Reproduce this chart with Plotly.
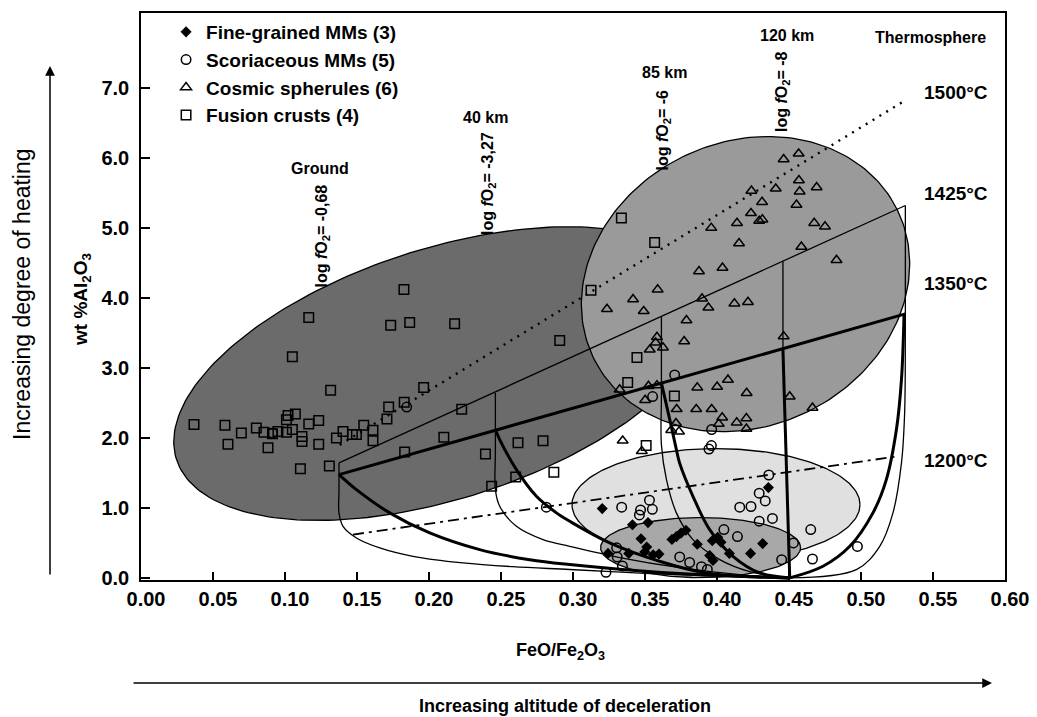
import numpy as np
import plotly.graph_objects as go

# ---------------- data ----------------
fusion_x = [0.1165,0.1051,0.1826,0.1734,0.1866,0.2178,0.1317,0.1963,0.0368,0.0583,0.0604,0.0697,0.0801,0.0854,0.0882,0.0913,0.0951,0.1010,0.1021,0.1072,0.1010,0.1051,0.1118,0.1118,0.1165,0.1234,0.1234,0.1107,0.1308,0.1357,0.1403,0.1468,0.1496,0.1547,0.1611,0.1611,0.1708,0.1720,0.1828,0.2227,0.2103,0.1831,0.2392,0.2435,0.2618,0.2792,0.2602,0.2867,0.3336,0.3567,0.3125,0.2908,0.3444,0.3380,0.3704,0.3508]
fusion_y = [3.72,3.16,4.12,3.61,3.65,3.63,2.68,2.72,2.19,2.18,1.91,2.07,2.14,2.08,1.86,2.06,2.09,2.26,2.32,2.34,2.08,2.12,2.02,1.95,2.20,2.25,1.91,1.56,1.60,2.00,2.09,2.05,2.05,2.18,2.11,1.96,2.27,2.44,2.51,2.41,2.01,1.80,1.77,1.31,1.93,1.96,1.44,1.51,5.14,4.79,4.11,3.39,3.15,2.79,2.60,1.89]

cosmic_x = [0.4463,0.4567,0.4239,0.4408,0.4569,0.4574,0.4692,0.4313,0.4552,0.4236,0.4139,0.4293,0.4315,0.4675,0.4750,0.3960,0.4153,0.4586,0.4830,0.3875,0.4038,0.3588,0.3417,0.3236,0.3491,0.3896,0.3940,0.4121,0.4215,0.3788,0.3772,0.3583,0.3574,0.3533,0.3625,0.4463,0.3324,0.3524,0.3583,0.3501,0.3863,0.4001,0.4076,0.4206,0.4505,0.3720,0.3856,0.3963,0.4663,0.3715,0.4036,0.4012,0.4137,0.4204,0.4204,0.3682,0.3736,0.3345,0.3478]
cosmic_y = [5.98,6.06,5.53,5.56,5.68,5.52,5.58,5.37,5.33,5.21,5.07,5.10,5.12,5.07,5.02,5.00,4.78,4.73,4.54,4.38,4.43,4.12,3.98,3.84,3.81,3.99,3.86,3.92,3.94,3.68,3.38,3.44,3.36,3.26,3.29,3.45,2.69,2.74,2.75,2.54,2.72,2.73,2.83,2.64,2.59,2.41,2.41,2.41,2.43,2.21,2.29,2.20,2.22,2.28,2.13,2.11,2.09,1.96,1.81]

scoria_x = [0.3963,0.3961,0.3944,0.4360,0.4293,0.4335,0.4158,0.4236,0.4293,0.4385,0.3338,0.3531,0.3551,0.3469,0.3461,0.4048,0.4142,0.4651,0.4531,0.4975,0.4663,0.4449,0.3741,0.3810,0.3892,0.3933,0.3303,0.3307,0.3343,0.3229,0.3706,0.3553,0.1845,0.0913,0.2815]
scoria_y = [2.12,1.89,1.84,1.47,1.21,1.10,1.01,1.02,0.81,0.85,1.01,1.11,0.98,0.97,0.90,0.69,0.59,0.69,0.50,0.45,0.27,0.26,0.30,0.22,0.16,0.12,0.43,0.30,0.17,0.08,2.90,2.59,2.44,2.07,1.01]

fine_x = [0.3203,0.4357,0.3413,0.3521,0.3472,0.3512,0.3498,0.3557,0.3597,0.3687,0.3718,0.3750,0.3784,0.3863,0.3967,0.4005,0.4028,0.3949,0.3972,0.4086,0.4317,0.4233,0.3243,0.3387]
fine_y = [0.99,1.29,0.76,0.79,0.56,0.44,0.37,0.33,0.34,0.55,0.59,0.64,0.68,0.48,0.53,0.58,0.51,0.32,0.25,0.35,0.49,0.35,0.35,0.35]

# isotherm lines
iso1500_x = [0.138, 0.529]; iso1500_y = [1.90, 6.80]
iso1425_x = [0.1375, 0.5308]; iso1425_y = [1.643, 5.32]
iso1350_x = [0.1375, 0.5308]; iso1350_y = [1.476, 3.771]
iso1200_x = [0.1472, 0.5256]; iso1200_y = [0.619, 1.737]

# evolution paths (thin = from 1425 line, thick = from 1350 line)
ground_thin_x = [0.1375,0.1375,0.1375,0.1403,0.1496,0.1658,0.1889,0.2236,0.2583,0.2977,0.35,0.40,0.4505]
ground_thin_y = [1.643,1.25,0.929,0.737,0.571,0.429,0.309,0.214,0.160,0.120,0.065,0.025,0.0]
ground_thick_x = [0.1375,0.1496,0.1727,0.2005,0.2352,0.2699,0.2977,0.35,0.40,0.4505]
ground_thick_y = [1.476,1.261,0.929,0.643,0.404,0.260,0.190,0.095,0.035,0.0]
km40_thin_x = [0.2461,0.2461,0.2461,0.2491,0.2607,0.2792,0.2977,0.3324,0.3741,0.4158,0.4505]
km40_thin_y = [2.643,1.8,1.261,1.023,0.737,0.547,0.451,0.291,0.147,0.047,0.0]
km40_thick_x = [0.2461,0.2491,0.2607,0.2746,0.2885,0.2977,0.3255,0.3602,0.3926,0.4505]
km40_thick_y = [2.119,1.976,1.547,1.166,0.929,0.809,0.500,0.237,0.071,0.0]
km85_thin_x = [0.3614,0.3614,0.3614,0.3649,0.3718,0.3833,0.4019,0.4227,0.4505]
km85_thin_y = [3.729,2.6,1.9,1.404,0.929,0.547,0.261,0.090,0.0]
km85_thick_x = [0.3614,0.3672,0.3718,0.3740,0.3833,0.3949,0.4111,0.4297,0.4505]
km85_thick_y = [2.786,2.262,1.833,1.643,1.166,0.690,0.309,0.071,0.0]
km120_thin_x = [0.4458,0.4458]; km120_thin_y = [4.53,3.26]
km120_thick_x = [0.4458,0.4505]; km120_thick_y = [3.26,0.0]
thermo_thin_x = [0.5308,0.5308,0.5303,0.5281,0.5222,0.5130,0.4968,0.4505]
thermo_thin_y = [5.32,3.643,2.357,1.643,0.929,0.451,0.119,0.0]
thermo_thick_x = [0.5299,0.5281,0.5246,0.5176,0.5083,0.4922,0.4736,0.4505]
thermo_thick_y = [3.771,2.833,2.119,1.404,0.929,0.451,0.166,0.0]

x_ticks = [0.00,0.05,0.10,0.15,0.20,0.25,0.30,0.35,0.40,0.45,0.50,0.55,0.60]
y_ticks = [0,1,2,3,4,5,6,7]

# ---------------- layout geometry ----------------
# the page body has an 8px margin, so the figure is shifted by OFF
OFF = 8
SCR_W, SCR_H = 1037, 717
P_L, P_R, P_T, P_B = 141, 1005, 13, 580      # plot area on screen
W, H = SCR_W - OFF, SCR_H - OFF
ML, MT = P_L - OFF, P_T - OFF
MR, MB = SCR_W - P_R, SCR_H - P_B
XR = [0, 0.6]
YR = [-0.03, 8.07]
PX_X = (P_R - P_L) / (XR[1] - XR[0])
PX_Y = (P_B - P_T) / (YR[1] - YR[0])

FONT = "Liberation Sans, Arial, sans-serif"

def ellipse(cx, cy, a_px, b_px, ang_deg, n=240):
    t = np.linspace(0, 2 * np.pi, n)
    th = np.radians(ang_deg)
    u, v = a_px * np.cos(t), b_px * np.sin(t)
    dx = u * np.cos(th) - v * np.sin(th)
    dy = u * np.sin(th) + v * np.cos(th)
    return cx + dx / PX_X, cy + dy / PX_Y

fig = go.Figure()

regions = [
    dict(c=(0.2097, 2.919), a=280, b=125, ang=17.9, fill="#6b6b6b"),
    dict(c=(0.4198, 4.197), a=169, b=142, ang=26, fill="#9a9a9a"),
    dict(c=(0.3993, 1.047), a=144, b=56, ang=0, fill="#e0e0e0"),
    dict(c=(0.3886, 0.433), a=100, b=30, ang=0, fill="#a8a8a8"),
]
for r in regions:
    ex, ey = ellipse(r["c"][0], r["c"][1], r["a"], r["b"], r["ang"])
    fig.add_trace(go.Scatter(x=ex, y=ey, mode="lines", fill="toself",
                             fillcolor=r["fill"], line=dict(color="black", width=1.3),
                             showlegend=False, hoverinfo="skip"))

def add_line(x, y, width, dash="solid", spline=False):
    fig.add_trace(go.Scatter(x=x, y=y, mode="lines",
                             line=dict(color="black", width=width, dash=dash,
                                       shape="spline" if spline else "linear", smoothing=1.0),
                             showlegend=False, hoverinfo="skip"))

add_line(iso1500_x, iso1500_y, 2.4, "2px,6px")
add_line(iso1200_x, iso1200_y, 1.8, "11px,5px,3px,5px")
add_line(iso1425_x, iso1425_y, 1.3)
add_line(iso1350_x, iso1350_y, 3.0)

for xs, ys in [(ground_thin_x, ground_thin_y), (km40_thin_x, km40_thin_y),
               (km85_thin_x, km85_thin_y), (km120_thin_x, km120_thin_y),
               (thermo_thin_x, thermo_thin_y)]:
    add_line(xs, ys, 1.3, spline=True)
for xs, ys in [(ground_thick_x, ground_thick_y), (km40_thick_x, km40_thick_y),
               (km85_thick_x, km85_thick_y), (km120_thick_x, km120_thick_y),
               (thermo_thick_x, thermo_thick_y)]:
    add_line(xs, ys, 3.0, spline=True)

mk_line = dict(color="black", width=1.5)
fig.add_trace(go.Scatter(x=fine_x, y=fine_y, mode="markers", name="Fine-grained MMs (3)", legendgroup="a",
                         marker=dict(symbol="diamond", size=8.5, color="black", line=dict(width=0))))
fig.add_trace(go.Scatter(x=scoria_x, y=scoria_y, mode="markers", name="Scoriaceous MMs (5)", legendgroup="b",
                         marker=dict(symbol="circle-open", size=9.5, color="black", line=mk_line)))
fig.add_trace(go.Scatter(x=cosmic_x, y=cosmic_y, mode="markers", name="Cosmic spherules (6)", legendgroup="c",
                         marker=dict(symbol="triangle-up-open", size=9.5, color="black", line=mk_line)))
fig.add_trace(go.Scatter(x=fusion_x, y=fusion_y, mode="markers", name="Fusion crusts (4)", legendgroup="d",
                         marker=dict(symbol="square-open", size=9.5, color="black", line=mk_line)))

def px2paper(px, py):
    return (px - P_L) / (P_R - P_L), (P_B - py) / (P_B - P_T)

ann = []
def text(px, py, s, size, bold=True, angle=0):
    x, y = px2paper(px, py)
    ann.append(dict(x=x, y=y, xref="paper", yref="paper", text=s, showarrow=False,
                    textangle=angle, xanchor="center", yanchor="middle",
                    font=dict(family=FONT, size=size, color="black",
                              weight="bold" if bold else "normal")))

text(320, 168, "Ground", 16)
text(485, 117, "40 km", 16)
text(664, 72, "85 km", 16)
text(787, 35, "120 km", 16)
text(930, 37, "Thermosphere", 16)
text(956, 92, "1500°C", 19)
text(956, 193, "1425°C", 19)
text(956, 283, "1350°C", 19)
text(956, 460, "1200°C", 19)
text(321.5, 236, "log <i>f</i>O<sub>2</sub>= -0,68", 16, angle=-90)
text(488, 184, "log <i>f</i>O<sub>2</sub>= -3,27", 16, angle=-90)
text(662.5, 130, "log <i>f</i>O<sub>2</sub>= -6", 16, angle=-90)
text(782.5, 91.5, "log <i>f</i>O<sub>2</sub>= -8", 16, angle=-90)
text(82, 300, "wt %Al<sub>2</sub>O<sub>3</sub>", 19, angle=-90)
text(22, 294, "Increasing degree of heating", 23, bold=False, angle=-90)
text(560, 651, "FeO/Fe<sub>2</sub>O<sub>3</sub>", 18)
text(565, 706, "Increasing altitude of deceleration", 18)

hx, hy = px2paper(50, 66)
ann.append(dict(x=hx, y=hy, xref="paper", yref="paper", ax=0, ay=510,
                text="", showarrow=True, arrowhead=2, arrowsize=1.3, arrowwidth=1.5, arrowcolor="black"))
hx, hy = px2paper(992, 683)
ann.append(dict(x=hx, y=hy, xref="paper", yref="paper", ax=-860, ay=0,
                text="", showarrow=True, arrowhead=2, arrowsize=1.3, arrowwidth=1.5, arrowcolor="black"))

axis_common = dict(showgrid=False, zeroline=False, showline=True, linecolor="black", linewidth=1.6,
                   mirror=True, ticks="inside", tickcolor="black", tickwidth=1.5,
                   tickfont=dict(family=FONT, size=20, color="black", weight="bold"))

fig.update_layout(
    width=W, height=H,
    margin=dict(l=ML, r=MR, t=MT, b=MB, autoexpand=False),
    paper_bgcolor="white", plot_bgcolor="white",
    xaxis=dict(range=XR, tickvals=x_ticks, tickformat=".2f", ticklen=8, ticklabelshift=5, **axis_common),
    yaxis=dict(range=YR, tickvals=y_ticks, tickformat=".1f", ticklen=9, ticklabelstandoff=6, **axis_common),
    legend=dict(x=0.029, y=1.0, xanchor="left", yanchor="top", bgcolor="rgba(0,0,0,0)",
                font=dict(family=FONT, size=19, color="black", weight="bold"),
                tracegroupgap=0, itemsizing="trace"),
    annotations=ann,
    showlegend=True,
)

fig.write_html("out.html")
